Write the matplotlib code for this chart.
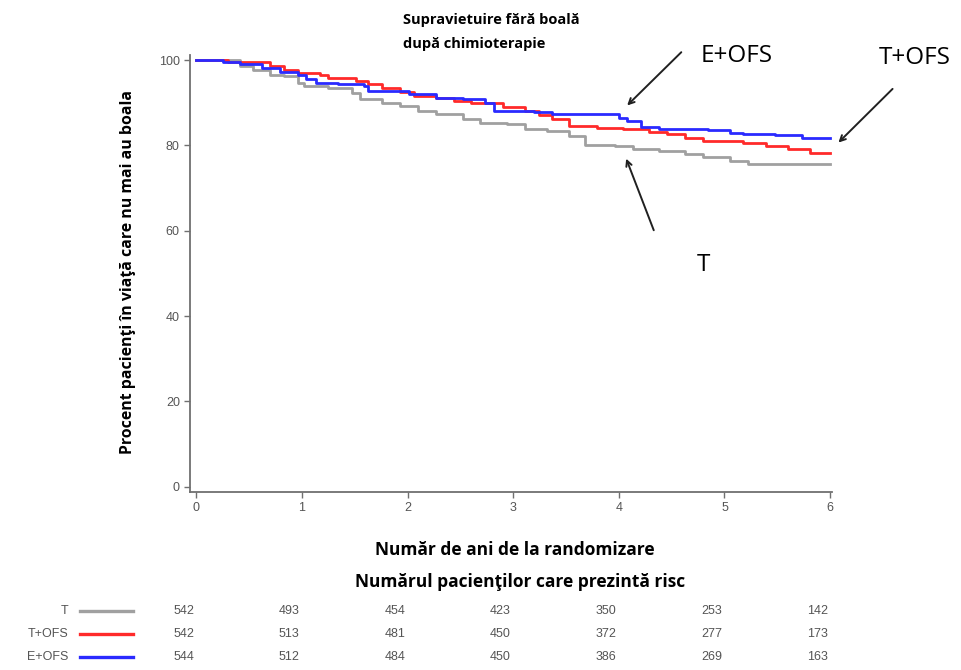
import matplotlib
matplotlib.use('Agg')
import matplotlib.pyplot as plt
from matplotlib import transforms

# Kaplan-Meier style step curves (years, percent)
t_x = [0, 0.41, 0.54, 0.70, 0.83, 0.96, 1.02, 1.25, 1.47, 1.55, 1.76, 1.93, 2.10, 2.27, 2.52,
       2.69, 2.94, 3.11, 3.32, 3.53, 3.68, 3.96, 4.13, 4.38, 4.63, 4.80, 5.05, 5.22, 6.0]
t_y = [100, 98.6, 97.6, 96.6, 96.2, 94.7, 93.9, 93.5, 92.3, 90.8, 90.0, 89.2, 88.0, 87.3, 86.1,
       85.3, 84.9, 83.8, 83.4, 82.2, 80.2, 79.8, 79.1, 78.7, 77.9, 77.3, 76.3, 75.7, 75.7]

tofs_x = [0, 0.30, 0.70, 0.83, 0.96, 1.17, 1.25, 1.51, 1.63, 1.76, 1.93, 2.06, 2.27, 2.44, 2.60,
          2.90, 3.11, 3.24, 3.37, 3.53, 3.79, 4.04, 4.29, 4.46, 4.63, 4.80, 5.18, 5.39, 5.60,
          5.81, 6.0]
tofs_y = [100, 99.5, 98.6, 97.6, 97.0, 96.6, 95.9, 95.2, 94.3, 93.5, 92.6, 91.6, 91.0, 90.4, 90.0,
          89.0, 88.0, 87.1, 86.3, 84.5, 84.0, 83.8, 83.2, 82.6, 81.8, 81.0, 80.6, 79.8, 79.1,
          78.3, 78.3]

eofs_x = [0, 0.25, 0.41, 0.62, 0.79, 0.96, 1.04, 1.13, 1.34, 1.59, 1.63, 2.01, 2.27, 2.52, 2.73,
          2.82, 3.20, 3.37, 4.00, 4.08, 4.21, 4.38, 4.84, 5.05, 5.18, 5.48, 5.73, 6.0]
eofs_y = [100, 99.5, 99.0, 98.2, 97.3, 96.6, 95.5, 94.7, 94.3, 93.9, 92.7, 92.0, 91.2, 90.8, 90.0,
          88.0, 87.9, 87.3, 86.5, 85.7, 84.3, 83.8, 83.5, 83.0, 82.6, 82.4, 81.8, 81.8]

# numbers at risk
risk_years = [0, 1, 2, 3, 4, 5, 6]
risk_t = [542, 493, 454, 423, 350, 253, 142]
risk_tofs = [542, 513, 481, 450, 372, 277, 173]
risk_eofs = [544, 512, 484, 450, 386, 269, 163]

groups = ['T', 'T+OFS', 'E+OFS']
colors = ['#a0a0a0', '#ff2a2a', '#2a2aff']

fig = plt.figure(figsize=(9.61, 6.70), dpi=100)
ax = fig.add_axes([0.198, 0.266, 0.668, 0.652])

for xs, ys, c in zip([t_x, tofs_x, eofs_x], [t_y, tofs_y, eofs_y], colors):
    ax.step(xs, ys, where='post', color=c, lw=2)

ax.set_xlim(-0.057, 6.02)
ax.set_ylim(-1.2, 101.2)
ax.set_xticks(range(0, 7))
ax.set_yticks(range(0, 101, 20))
for s in ['top', 'right']:
    ax.spines[s].set_visible(False)
for s in ['left', 'bottom']:
    ax.spines[s].set_color('#707070')
    ax.spines[s].set_linewidth(1.3)
ax.tick_params(colors='#707070', labelcolor='#555555', labelsize=9, length=4, width=1)
for lab in ax.get_xticklabels() + ax.get_yticklabels():
    lab.set_family('Liberation Sans')

ax.set_ylabel('Procent pacienţi în viaţă care nu mai au boala', family='Open Sans',
              fontweight='bold', fontsize=11.4)
ax.yaxis.set_label_coords(-0.084, 0.503)
ax.set_xlabel('Număr de ani de la randomizare', family='Open Sans', fontweight='bold',
              fontsize=12.5)
ax.xaxis.set_label_coords(0.505, -0.113)

fig.text(403 / 961, 1 - 20 / 670, 'Supravietuire fără boală', family='Open Sans',
         fontweight='bold', fontsize=10.5, va='center', ha='left')
fig.text(403 / 961, 1 - 44 / 670, 'după chimioterapie', family='Open Sans',
         fontweight='bold', fontsize=10.5, va='center', ha='left')

# annotations with arrows
arrow = dict(arrowstyle='->', color='#202020', lw=1.4)
ax.annotate('', xy=(4.06, 88.9), xytext=(4.61, 102.3), arrowprops=arrow, annotation_clip=False)
ax.text(5.12, 101.0, 'E+OFS', fontsize=17.5, family='Open Sans', ha='center', va='center',
        clip_on=False)
ax.annotate('', xy=(6.06, 80.2), xytext=(6.61, 93.7), arrowprops=arrow, annotation_clip=False)
ax.text(6.80, 100.5, 'T+OFS', fontsize=17.5, family='Open Sans', ha='center', va='center',
        clip_on=False)
ax.annotate('', xy=(4.06, 77.5), xytext=(4.34, 59.5), arrowprops=arrow, annotation_clip=False)
ax.text(4.80, 52.0, 'T', fontsize=17.5, family='Open Sans', ha='center', va='center',
        clip_on=False)

# numbers at risk table
fig.text(520 / 961, 1 - 582 / 670, 'Numărul pacienţilor care prezintă risc', family='Open Sans',
         fontweight='bold', fontsize=12.5, ha='center', va='center')
row_y = [611, 634, 657]
trans = transforms.blended_transform_factory(ax.transData, fig.transFigure)
for name, c, ry, counts in zip(groups, colors, row_y, [risk_t, risk_tofs, risk_eofs]):
    yf = 1 - ry / 670
    fig.text(68 / 961, yf, name, ha='right', va='center', fontsize=9,
             color='#555555', family='Liberation Sans')
    fig.add_artist(plt.Line2D([80 / 961, 133 / 961], [yf, yf], color=c, lw=2.4))
    for yr, n in zip(risk_years, counts):
        ax.text(yr - 0.12, yf, str(n), transform=trans, ha='center', va='center',
                fontsize=9, color='#555555', family='Liberation Sans', clip_on=False)

fig.savefig('out.png', dpi=100)
